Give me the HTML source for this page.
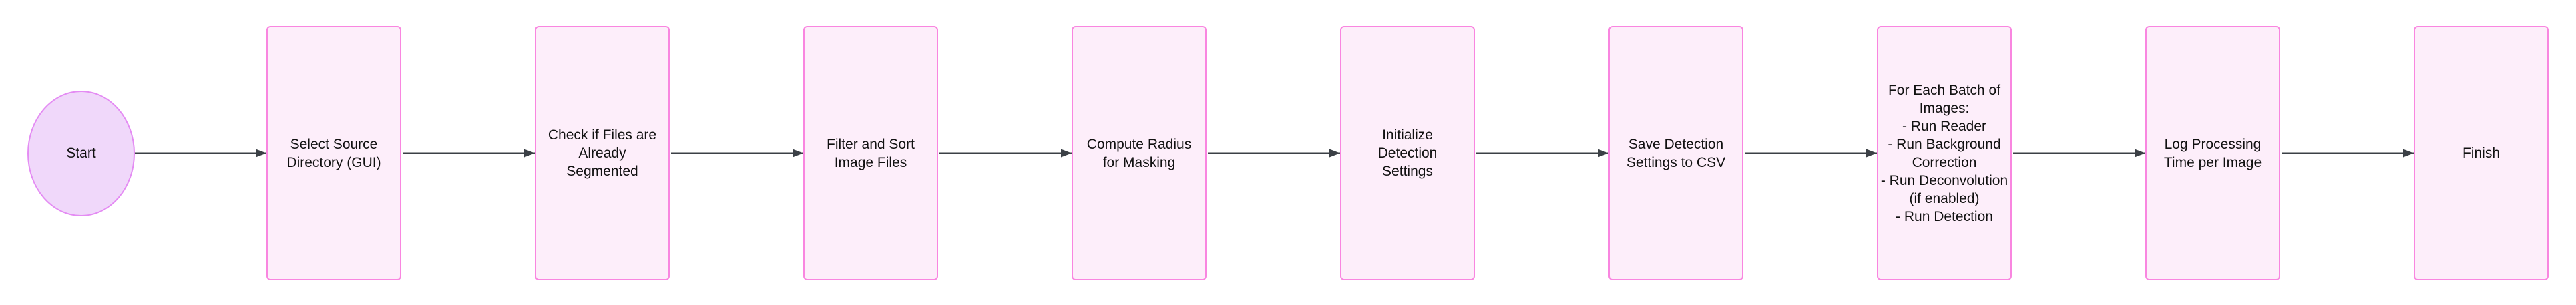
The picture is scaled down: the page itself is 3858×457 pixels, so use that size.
<!DOCTYPE html>
<html><head><meta charset="utf-8"><style>
html,body{margin:0;padding:0;background:#fff;}
body{width:3858px;height:457px;position:relative;overflow:hidden;font-family:"Liberation Sans",Arial,sans-serif;}
.b{position:absolute;top:39px;width:198px;height:377px;background:#fdeefa;border:2.5px solid #f986e0;border-radius:6px;display:flex;align-items:center;justify-content:center;text-align:center;font-size:21px;line-height:27px;color:#111;white-space:nowrap;}
.s{position:absolute;left:41px;top:136px;width:157px;height:184px;background:#f0d8fa;border:2.5px solid #e48cf3;border-radius:50%;display:flex;align-items:center;justify-content:center;font-size:21px;color:#111;}
svg{position:absolute;left:0;top:0;}
</style></head><body>
<svg width="3858" height="457">
<defs><marker id="a" markerWidth="16" markerHeight="12" refX="16" refY="6" orient="auto" markerUnits="userSpaceOnUse"><path d="M0,0 L16,6 L0,12 z" fill="#3b4046"/></marker></defs>
<g stroke="#3b4046" stroke-width="2" marker-end="url(#a)">
<line x1="201" y1="229.5" x2="399" y2="229.5"/>
<line x1="603" y1="229.5" x2="801" y2="229.5"/>
<line x1="1005" y1="229.5" x2="1203" y2="229.5"/>
<line x1="1407" y1="229.5" x2="1605" y2="229.5"/>
<line x1="1809" y1="229.5" x2="2007" y2="229.5"/>
<line x1="2211" y1="229.5" x2="2409" y2="229.5"/>
<line x1="2613" y1="229.5" x2="2811" y2="229.5"/>
<line x1="3015" y1="229.5" x2="3213" y2="229.5"/>
<line x1="3417" y1="229.5" x2="3615" y2="229.5"/>
</g></svg>
<div class="s">Start</div>
<div class="b" style="left:399px">Select Source<br>Directory (GUI)</div>
<div class="b" style="left:801px">Check if Files are<br>Already<br>Segmented</div>
<div class="b" style="left:1203px">Filter and Sort<br>Image Files</div>
<div class="b" style="left:1605px">Compute Radius<br>for Masking</div>
<div class="b" style="left:2007px">Initialize<br>Detection<br>Settings</div>
<div class="b" style="left:2409px">Save Detection<br>Settings to CSV</div>
<div class="b" style="left:2811px">For Each Batch of<br>Images:<br>- Run Reader<br>- Run Background<br>Correction<br>- Run Deconvolution<br>(if enabled)<br>- Run Detection</div>
<div class="b" style="left:3213px">Log Processing<br>Time per Image</div>
<div class="b" style="left:3615px">Finish</div>
</body></html>
